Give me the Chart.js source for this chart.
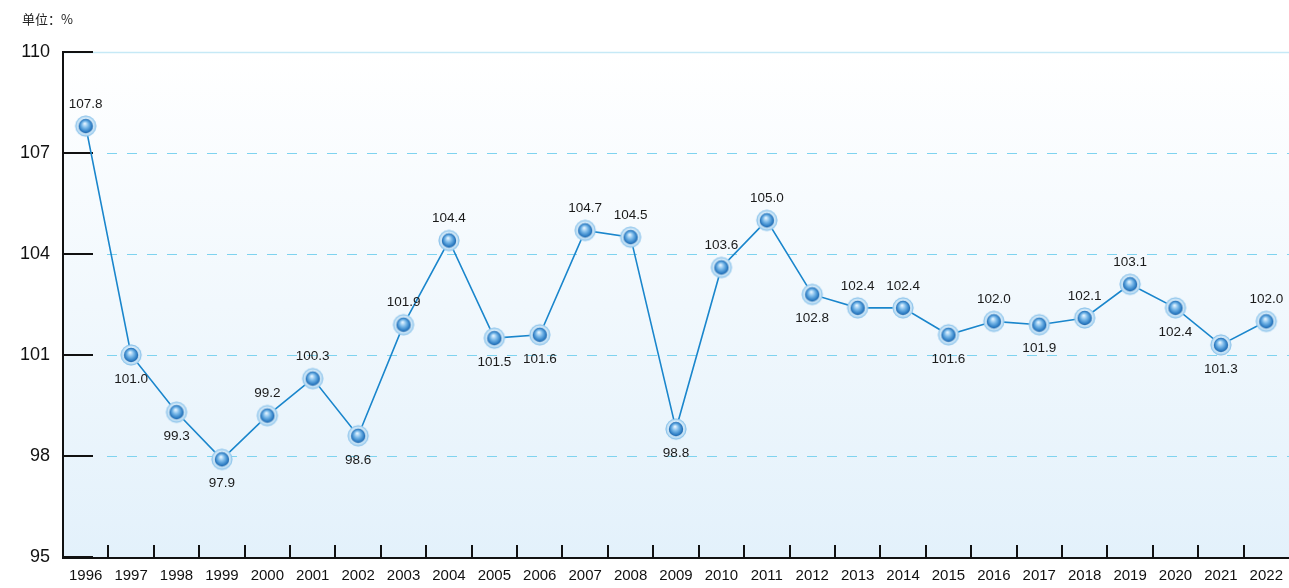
<!DOCTYPE html>
<html>
<head>
<meta charset="utf-8">
<script src="https://cdn.jsdelivr.net/npm/chart.js@4"></script>
<style>
  html, body { margin: 0; padding: 0; background: #ffffff; overflow: hidden; }
  #wrap { position: relative; width: 1289px; height: 588px; }
  #unit { position: absolute; left: 22px; top: 9px; font: 13px "Noto Sans CJK SC", "Liberation Sans", sans-serif; color: #222; }
</style>
</head>
<body>
<div id="wrap">
  <canvas id="c" width="1289" height="588"></canvas>
  <div id="unit">单位：%</div>
</div>
<script>
const years = ['1996','1997','1998','1999','2000','2001','2002','2003','2004','2005','2006','2007','2008','2009','2010','2011','2012','2013','2014','2015','2016','2017','2018','2019','2020','2021','2022'];
const indexValues = [107.8,101.0,99.3,97.9,99.2,100.3,98.6,101.9,104.4,101.5,101.6,104.7,104.5,98.8,103.6,105.0,102.8,102.4,102.4,101.6,102.0,101.9,102.1,103.1,102.4,101.3,102.0];
const yTicks = [95, 98, 101, 104, 107, 110];

// which side of each marker its value label sits on (1 = above, -1 = below)
const labelSide = [1,-1,-1,-1,1,1,-1,1,1,-1,-1,1,1,-1,1,1,-1,1,1,-1,1,-1,1,1,-1,-1,1];

// glossy sphere marker
function makeMarker() {
  const s = 24, c = document.createElement('canvas');
  c.width = s; c.height = s;
  const g = c.getContext('2d');
  const cx = s / 2, cy = s / 2;
  let rg = g.createRadialGradient(cx, cy - 2, 2, cx, cy, 10.5);
  rg.addColorStop(0, '#ffffff');
  rg.addColorStop(0.6, '#d7ecfa');
  rg.addColorStop(1, '#a9d3f0');
  g.fillStyle = rg;
  g.beginPath(); g.arc(cx, cy, 10.5, 0, Math.PI * 2); g.fill();
  g.strokeStyle = 'rgba(140,195,235,0.9)'; g.lineWidth = 1;
  g.beginPath(); g.arc(cx, cy, 10, 0, Math.PI * 2); g.stroke();
  rg = g.createRadialGradient(cx - 1, cy - 2.5, 0.5, cx, cy, 7.5);
  rg.addColorStop(0, '#e0f2ff');
  rg.addColorStop(0.4, '#7ab9e9');
  rg.addColorStop(0.8, '#2f7fc5');
  rg.addColorStop(1, '#1d5fa3');
  g.fillStyle = rg;
  g.beginPath(); g.arc(cx, cy, 7.2, 0, Math.PI * 2); g.fill();
  return c;
}
const marker = makeMarker();

const frame = {
  id: 'frame',
  beforeDraw(chart) {
    const { ctx, chartArea: a } = chart;
    const gr = ctx.createLinearGradient(0, a.top, 0, a.bottom);
    gr.addColorStop(0, '#ffffff');
    gr.addColorStop(1, '#e3f1fb');
    ctx.save();
    ctx.fillStyle = gr;
    ctx.fillRect(a.left, a.top, a.right - a.left, a.bottom - a.top);
    ctx.restore();
  },
  beforeDatasetsDraw(chart) {
    const { ctx, chartArea: a, scales } = chart;
    const y = scales.y, x = scales.x;
    ctx.save();
    // gridlines
    yTicks.forEach(v => {
      if (v === 95) return;
      const py = Math.round(y.getPixelForValue(v)) + 0.5;
      ctx.beginPath();
      if (v === 110) {
        ctx.setLineDash([]);
        ctx.strokeStyle = '#c6e9f6';
        ctx.lineWidth = 1.5;
        ctx.moveTo(a.left, py); ctx.lineTo(a.right, py);
      } else {
        ctx.setLineDash([10, 10]);
        ctx.lineDashOffset = -2;
        ctx.strokeStyle = '#7fd3ef';
        ctx.lineWidth = 1;
        ctx.moveTo(a.left + 42, py); ctx.lineTo(a.right, py);
      }
      ctx.stroke();
    });
    ctx.setLineDash([]);
    // axes
    ctx.strokeStyle = '#111';
    ctx.lineWidth = 2;
    ctx.beginPath();
    ctx.moveTo(a.left, a.top - 1); ctx.lineTo(a.left, a.bottom + 1);
    ctx.lineTo(a.right, a.bottom + 1);
    ctx.stroke();
    // y tick marks (inside)
    yTicks.forEach(v => {
      const py = Math.round(y.getPixelForValue(v));
      ctx.beginPath(); ctx.moveTo(a.left, py); ctx.lineTo(a.left + 30, py); ctx.stroke();
    });
    // x tick marks between categories (inside)
    for (let i = 0; i < years.length - 1; i++) {
      const px = Math.round((x.getPixelForValue(i) + x.getPixelForValue(i + 1)) / 2);
      ctx.beginPath(); ctx.moveTo(px, a.bottom); ctx.lineTo(px, a.bottom - 12); ctx.stroke();
    }
    ctx.restore();
  },
  afterDatasetsDraw(chart) {
    const { ctx } = chart;
    const meta = chart.getDatasetMeta(0);
    ctx.save();
    ctx.font = '13.5px "Liberation Sans", Arial, sans-serif';
    ctx.fillStyle = '#1a1a1a';
    ctx.textAlign = 'center';
    ctx.textBaseline = 'middle';
    meta.data.forEach((pt, i) => {
      const off = labelSide[i] > 0 ? -22 : 24;
      ctx.fillText(indexValues[i].toFixed(1), pt.x, pt.y + off);
    });
    ctx.restore();
  }
};

new Chart(document.getElementById('c'), {
  type: 'line',
  data: {
    labels: years,
    datasets: [{
      data: indexValues,
      borderColor: '#1a86cc',
      borderWidth: 1.6,
      tension: 0,
      pointStyle: marker,
      pointRadius: 10,
      pointHoverRadius: 10,
      fill: false
    }]
  },
  options: {
    responsive: false,
    animation: false,
    events: [],
    layout: { autoPadding: false, padding: { top: 52, right: 0, left: 0, bottom: 0 } },
    plugins: { legend: { display: false }, tooltip: { enabled: false } },
    scales: {
      x: {
        type: 'category',
        offset: true,
        grid: { display: false, drawTicks: false },
        border: { display: false },
        ticks: { color: '#111', font: { size: 15, family: '"Liberation Sans", Arial, sans-serif' }, padding: 10, maxRotation: 0, autoSkip: false },
        afterFit(s) { s.height = 31; s.paddingRight = 0; s.paddingLeft = 0; }
      },
      y: {
        min: 95, max: 110,
        afterBuildTicks(s) { s.ticks = yTicks.map(v => ({ value: v })); },
        grid: { display: false, drawTicks: false },
        border: { display: false },
        ticks: { color: '#111', font: { size: 18, family: '"Liberation Sans", Arial, sans-serif' }, padding: 13 },
        afterFit(s) { s.width = 63; }
      }
    }
  },
  plugins: [frame]
});
</script>
</body>
</html>
